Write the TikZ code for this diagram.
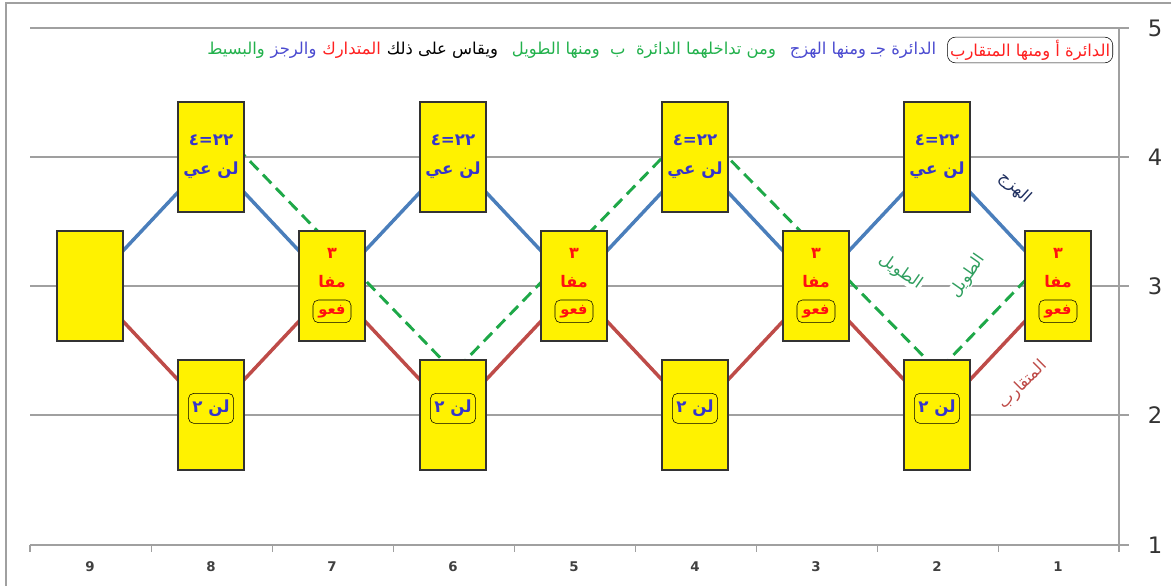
\documentclass[tikz,border=0pt]{standalone}
\usepackage{fontspec}
\setmainfont{DejaVu Sans}
\newfontfamily\arabicfont[Script=Arabic]{DejaVu Sans}
\TeXXeTstate=1
\usepackage{tikz}
\usetikzlibrary{positioning}

\definecolor{hazajline}{HTML}{4A7EBB}
\definecolor{mutaqline}{HTML}{BE4B48}
\definecolor{tawilline}{HTML}{1EA848}
\definecolor{boxblue}{HTML}{3535CC}
\definecolor{boxred}{HTML}{FF1010}
\definecolor{headgreen}{HTML}{22B14C}
\definecolor{headblue}{HTML}{4B4BD0}
\definecolor{headred}{HTML}{FF2020}
\definecolor{navylabel}{HTML}{1F2F5F}
\definecolor{tawiltext}{HTML}{2E9E5E}
\definecolor{axisgray}{HTML}{A0A0A0}

\begin{document}
\begin{tikzpicture}[x=0.75pt,y=-0.75pt,
  ybox/.style={draw=black!80,line width=0.9pt,fill=yellow,minimum width=49.5pt,minimum height=82.5pt,inner sep=0pt},
  tag/.style={draw=black,rounded corners=4pt,inner xsep=3pt,inner ysep=0pt},
  btxt/.style={font=\arabicfont\bfseries\fontsize{12.5}{14}\selectfont,text=boxblue,inner sep=0pt},
  rtxt/.style={font=\arabicfont\bfseries\fontsize{12}{14}\selectfont,text=boxred,inner sep=0pt},
  head/.style={font=\arabicfont\fontsize{12.3}{14}\selectfont,inner sep=2pt},
  gridline/.style={draw=axisgray,line width=0.8pt},
  series/.style={line width=2.6pt,line cap=round,line join=round}]
\useasboundingbox (0,0) rectangle (1171,586);
\draw[axisgray,line width=0.8pt] (6,586) -- (6,3) -- (1171,3);

% grid and axes
\foreach \lv/\yy in {5/28,4/157,3/286,2/415}
  \draw[gridline] (30,\yy) -- (1129,\yy);
\draw[gridline,line width=1.4pt,draw=gray!75] (30,157) -- (1129,157);
\draw[gridline] (30,545) -- (1129,545);
\draw[gridline] (1119,28) -- (1119,552);
\foreach \k in {0,...,9}
  \draw[gridline] ({30+121.1*\k},545) -- ({30+121.1*\k},552);
\foreach \lv/\yy in {5/28,4/157,3/286,2/415,1/545}
  \node[font=\fontsize{17}{17}\selectfont,text=black!80] (ax\lv) at (1155,\yy) {\lv};

% data points
\foreach \c/\xx in {9/90,8/211,7/332,6/453,5/574,4/695,3/816,2/937,1/1058}{
  \coordinate (m\c) at (\xx,286);
  \coordinate (t\c) at (\xx,157);
  \coordinate (b\c) at (\xx,415);
  \node[font=\bfseries\fontsize{10}{11}\selectfont,text=black!75] (cat\c) at (\xx,567) {\c};
}
\coordinate (g1) at (211,121);
\coordinate (g2) at (454,372);
\coordinate (g3) at (695,124);
\coordinate (g4) at (938,371);
\coordinate (g5) at (1040,265);

\draw[series,hazajline] (m9) -- (t8) -- (m7) -- (t6) -- (m5) -- (t4) -- (m3) -- (t2) -- (m1);
\draw[series,mutaqline] (m9) -- (b8) -- (m7) -- (b6) -- (m5) -- (b4) -- (m3) -- (b2) -- (m1);
\draw[series,tawilline,line width=2.2pt,line cap=butt,dash pattern=on 9pt off 5pt] (g1) -- (g2) -- (g3) -- (g4) -- (g5);

% boxes
\node[ybox] (box9) at (m9) {};
\foreach \c in {8,6,4,2}{
  \node[ybox] (top\c) at (t\c) {};
  \node[btxt] at ([yshift=12.5pt]top\c.center) {\beginR ٢٢=٤\endR};
  \node[btxt] at ([yshift=-10pt]top\c.center) {\beginR لن عي\endR};
  \node[ybox] (bot\c) at (b\c) {};
  \node[btxt,tag,minimum width=31.5pt,minimum height=22.5pt] at ([yshift=5pt]bot\c.center) {\beginR لن ٢\endR};
}
\foreach \c in {7,5,3,1}{
  \node[ybox] (mid\c) at (m\c) {};
  \node[rtxt] at ([yshift=24.5pt]mid\c.center) {\beginR ٣\endR};
  \node[rtxt] at ([yshift=3pt]mid\c.center) {\beginR مفا\endR};
  \node[rtxt,tag,font=\arabicfont\bfseries\fontsize{11}{12}\selectfont,minimum width=28.5pt,minimum height=17pt] at ([yshift=-19pt]mid\c.center) {\beginR فعو\endR};
}

% series names
\node[head,text=navylabel,rotate=-42] (lhazaj) at (1015,188) {\beginR الهزج\endR};
\node[head,text=tawiltext,rotate=-35,fill=white,inner sep=0.5pt] (ltawil1) at (901,272) {\beginR الطويل\endR};
\node[head,text=tawiltext,rotate=55,fill=white,inner sep=0.5pt] (ltawil2) at (968,276) {\beginR الطويل\endR};
\node[head,text=mutaqline,rotate=45] (lmutaq) at (1023,385) {\beginR المتقارب\endR};

% heading line
\node[head,text=headred,draw=black,rounded corners=6pt,anchor=east] (h1) at (1113,50) {\beginR الدائرة أ ومنها المتقارب\endR};
\node[head,text=headblue,left=6pt of h1] (h2) {\beginR الدائرة جـ ومنها الهزج\endR};
\node[head,text=headgreen,left=6pt of h2] (h3) {\beginR ومن تداخلهما الدائرة\ \ ب\ \ ومنها الطويل\endR};
\node[head,text=black,left=6pt of h3] (h4) {\beginR ويقاس على ذلك\endR};
\node[head,text=headred,left=0pt of h4] (h5) {\beginR المتدارك\endR};
\node[head,text=headblue,left=0pt of h5] (h6) {\beginR والرجز\endR};
\node[head,text=headgreen,left=0pt of h6] (h7) {\beginR والبسيط\endR};
\end{tikzpicture}
\end{document}
